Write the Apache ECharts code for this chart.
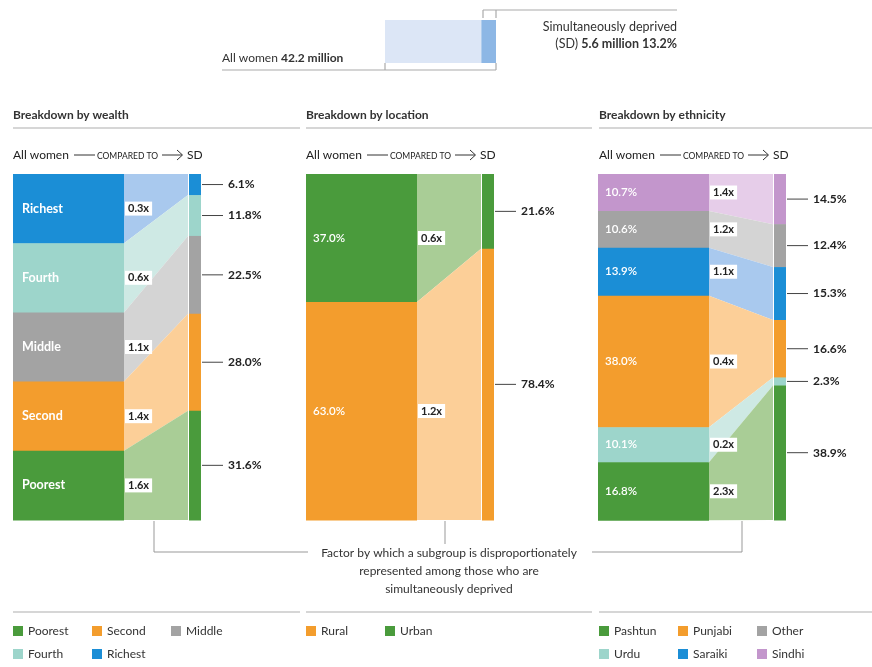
<!DOCTYPE html>
<html><head><meta charset="utf-8">
<script src="https://cdn.jsdelivr.net/npm/echarts@6/dist/echarts.min.js"></script>
<style>html,body{margin:0;padding:0;background:#fff}#c{width:872px;height:667px}</style>
</head><body><div id="c"></div>
<script>
const FONT = "Lato, 'Noto Sans', sans-serif";

// ---- data ----
const totalWomenMillions = 42.2;
const sdMillions = 5.6;
const sdSharePct = 13.2;

const wealthCats = ['Richest', 'Fourth', 'Middle', 'Second', 'Poorest'];
const wealthAll = [20, 20, 20, 20, 20];
const wealthSD = [6.1, 11.8, 22.5, 28.0, 31.6];
const wealthFactor = ['0.3x', '0.6x', '1.1x', '1.4x', '1.6x'];

const locationCats = ['Urban', 'Rural'];
const locationAll = [37.0, 63.0];
const locationSD = [21.6, 78.4];
const locationFactor = ['0.6x', '1.2x'];

const ethnicCats = ['Sindhi', 'Other', 'Saraiki', 'Punjabi', 'Urdu', 'Pashtun'];
const ethnicAll = [10.7, 10.6, 13.9, 38.0, 10.1, 16.8];
const ethnicSD = [14.5, 12.4, 15.3, 16.6, 2.3, 38.9];
const ethnicFactor = ['1.4x', '1.2x', '1.1x', '0.4x', '0.2x', '2.3x'];

const wealthLegend = ['Poorest', 'Second', 'Middle', 'Fourth', 'Richest'];
const locationLegend = ['Rural', 'Urban'];
const ethnicLegend = ['Pashtun', 'Punjabi', 'Other', 'Urdu', 'Saraiki', 'Sindhi'];

// ---- styles ----
const PAL = {
  green: ['#4a9b3c', '#a9cd96'],
  orange: ['#f39d2d', '#fccf98'],
  gray: ['#a3a3a3', '#d4d4d4'],
  teal: ['#9dd5cb', '#cee9e4'],
  blue: ['#1b8ed6', '#a9c9ee'],
  purple: ['#c396cc', '#e6cde9']
};
const CAT_COLOR = {
  Poorest: 'green', Second: 'orange', Middle: 'gray', Fourth: 'teal', Richest: 'blue',
  Urban: 'green', Rural: 'orange',
  Pashtun: 'green', Punjabi: 'orange', Other: 'gray', Urdu: 'teal', Saraiki: 'blue', Sindhi: 'purple'
};

// layout in axis units (x axis 0..188)
const XL = 111, XB = 175, XS = 188;

function buildData(all, sd) {
  let a = 0, s = 0; const out = [];
  for (let i = 0; i < all.length; i++) {
    out.push([i, a, a + all[i], s, s + sd[i]]);
    a += all[i]; s += sd[i];
  }
  return out;
}

function makeRender(cats, all, sd, factors, innerText, innerBold, innerDx) {
  return function (params, api) {
    const i = api.value(0);
    const l0 = api.value(1), l1 = api.value(2), s0 = api.value(3), s1 = api.value(4);
    const pal = PAL[CAT_COLOR[cats[i]]];
    const p = (x, y) => api.coord([x, y]);
    const a0 = p(0, l0), a1 = p(XL, l1), b0 = p(XB, s0), b1 = p(XS, s1);
    const lm = (a0[1] + a1[1]) / 2, sm = (b0[1] + b1[1]) / 2;
    return {
      type: 'group',
      children: [
        { type: 'rect', shape: { x: a0[0], y: a0[1], width: a1[0] - a0[0], height: a1[1] - a0[1] + 0.5 }, style: { fill: pal[0] } },
        { type: 'polygon', shape: { points: [p(XL, l0), p(XB, s0), p(XB, s1), p(XL, l1)] }, style: { fill: pal[1] } },
        { type: 'rect', shape: { x: b0[0] + 1, y: b0[1], width: b1[0] - b0[0] - 1, height: b1[1] - b0[1] + 0.5 }, style: { fill: pal[0] } },
        { type: 'text', z2: 10, style: { text: innerText(i), x: a0[0] + innerDx, y: lm, fill: '#fff',
            font: (innerBold ? 'bold 12.5px ' : '600 11.5px ') + FONT, align: 'left', verticalAlign: 'middle' } },
        { type: 'text', z2: 11, style: { text: factors[i], x: a1[0] + 1, y: lm, fill: '#222', backgroundColor: '#fff',
            padding: [2, 3, 1, 3], font: 'bold 11px ' + FONT, align: 'left', verticalAlign: 'middle' } },
        { type: 'line', shape: { x1: b1[0] + 1, y1: sm, x2: b1[0] + 22, y2: sm }, style: { stroke: '#444', lineWidth: 1 } },
        { type: 'text', style: { text: sd[i].toFixed(1) + '%', x: b1[0] + 27, y: sm, fill: '#222',
            font: 'bold 12px ' + FONT, align: 'left', verticalAlign: 'middle' } }
      ]
    };
  };
}

// ---- graphic helpers ----
const G = [];
function T(x, y, text, opt) {
  G.push({ type: 'text', x: x, y: y, silent: true,
    style: Object.assign({ text: text, fill: '#333', fontSize: 12, fontFamily: FONT, fontWeight: 'normal',
      align: 'left', verticalAlign: 'middle', textAlign: 'left', textVerticalAlign: 'middle' }, opt || {}) });
}
function L(x1, y1, x2, y2, stroke, w) {
  G.push({ type: 'line', silent: true, shape: { x1: x1, y1: y1, x2: x2, y2: y2 },
    style: { stroke: stroke || '#c8c8c8', lineWidth: w || 1.5 } });
}

// top summary
T(222, 58, 'All women {b|' + totalWomenMillions.toFixed(1) + ' million}', {
  rich: { b: { fontWeight: 'bold', fontSize: 12, fontFamily: FONT, fill: '#333' } } });
T(677, 27, 'Simultaneously deprived', { align: 'right', textAlign: 'right', fontSize: 12.5 });
T(677, 44, '(SD) {b|' + sdMillions.toFixed(1) + ' million ' + sdSharePct.toFixed(1) + '%}', {
  align: 'right', textAlign: 'right', fontSize: 12.5,
  rich: { b: { fontWeight: 'bold', fontSize: 12.5, fontFamily: FONT, fill: '#333' } } });
L(222, 70, 496, 70, '#aaa', 1.2);
L(385, 63, 385, 70, '#aaa', 1.2);
L(496, 63, 496, 70, '#aaa', 1.2);
L(483, 10, 677, 10, '#aaa', 1.2);
L(483, 10, 483, 18, '#aaa', 1.2);
L(496, 10, 496, 18, '#aaa', 1.2);

// panel headers
const panelX = [13, 306, 599];
const panelRight = [300, 592, 872];
const headers = ['Breakdown by wealth', 'Breakdown by location', 'Breakdown by ethnicity'];
panelX.forEach((x0, k) => {
  T(x0, 115, headers[k], { fontWeight: 'bold', fill: '#333' });
  L(x0, 128, panelRight[k], 128, '#c8c8c8', 1.5);
  L(x0, 612, panelRight[k], 612, '#c8c8c8', 1.5);
  T(x0, 155, 'All women', { fill: '#222' });
  L(x0 + 61, 155, x0 + 82, 155, '#333', 1);
  T(x0 + 84, 156, 'COMPARED TO', { fontSize: 8.5, fill: '#222' });
  L(x0 + 149, 155, x0 + 169, 155, '#333', 1);
  G.push({ type: 'polyline', silent: true, shape: { points: [[x0 + 164, 150], [x0 + 169.5, 155], [x0 + 164, 160]] },
    style: { stroke: '#333', lineWidth: 1, fill: null } });
  T(x0 + 174, 155, 'SD', { fill: '#222' });
});

// caption bracket
L(154, 521, 154, 552, '#999', 1);
L(154, 552, 308, 552, '#999', 1);
L(592, 552, 742, 552, '#999', 1);
L(742, 552, 742, 521, '#999', 1);
L(445, 521, 445, 544, '#999', 1);
T(449, 553, 'Factor by which a subgroup is disproportionately', { align: 'center', textAlign: 'center' });
T(449, 571, 'represented among those who are', { align: 'center', textAlign: 'center' });
T(449, 589, 'simultaneously deprived', { align: 'center', textAlign: 'center' });

// legends
function legend(names, x0) {
  names.forEach((n, i) => {
    const col = i % 3, row = Math.floor(i / 3);
    const x = x0 + col * 79, y = 631 + row * 23;
    G.push({ type: 'rect', silent: true, shape: { x: x, y: y - 5, width: 10, height: 10 },
      style: { fill: PAL[CAT_COLOR[n]][0] } });
    T(x + 15, y, n, { fill: '#333' });
  });
}
legend(wealthLegend, 13);
legend(locationLegend, 306);
legend(ethnicLegend, 599);

// ---- chart ----
const panelGrid = (left) => ({ left: left, top: 174, width: 188, height: 346 });
const chart = echarts.init(document.getElementById('c'));
chart.setOption({
  backgroundColor: '#fff',
  animation: false,
  textStyle: { fontFamily: FONT },
  grid: [
    { left: 385, top: 20, width: 111, height: 43 },
    panelGrid(13), panelGrid(306), panelGrid(598)
  ],
  xAxis: [
    { gridIndex: 0, type: 'value', min: 0, max: 100, show: false },
    { gridIndex: 1, type: 'value', min: 0, max: XS, show: false },
    { gridIndex: 2, type: 'value', min: 0, max: XS, show: false },
    { gridIndex: 3, type: 'value', min: 0, max: XS, show: false }
  ],
  yAxis: [
    { gridIndex: 0, type: 'category', data: ['All women'], show: false },
    { gridIndex: 1, type: 'value', min: 0, max: 100, inverse: true, show: false },
    { gridIndex: 2, type: 'value', min: 0, max: 100, inverse: true, show: false },
    { gridIndex: 3, type: 'value', min: 0, max: 100, inverse: true, show: false }
  ],
  series: [
    { type: 'bar', name: 'Not SD', xAxisIndex: 0, yAxisIndex: 0, stack: 'all', barWidth: '100%', silent: true,
      data: [100 - sdSharePct], itemStyle: { color: '#dce6f6' } },
    { type: 'bar', name: 'SD', xAxisIndex: 0, yAxisIndex: 0, stack: 'all', barWidth: '100%', silent: true,
      data: [sdSharePct], itemStyle: { color: '#8db7e5' } },
    { type: 'custom', name: 'Wealth', xAxisIndex: 1, yAxisIndex: 1, silent: true,
      data: buildData(wealthAll, wealthSD),
      renderItem: makeRender(wealthCats, wealthAll, wealthSD, wealthFactor, i => wealthCats[i], true, 9) },
    { type: 'custom', name: 'Location', xAxisIndex: 2, yAxisIndex: 2, silent: true,
      data: buildData(locationAll, locationSD),
      renderItem: makeRender(locationCats, locationAll, locationSD, locationFactor, i => locationAll[i].toFixed(1) + '%', false, 7) },
    { type: 'custom', name: 'Ethnicity', xAxisIndex: 3, yAxisIndex: 3, silent: true,
      data: buildData(ethnicAll, ethnicSD),
      renderItem: makeRender(ethnicCats, ethnicAll, ethnicSD, ethnicFactor, i => ethnicAll[i].toFixed(1) + '%', false, 7) }
  ],
  graphic: G
});
</script>
</body></html>
